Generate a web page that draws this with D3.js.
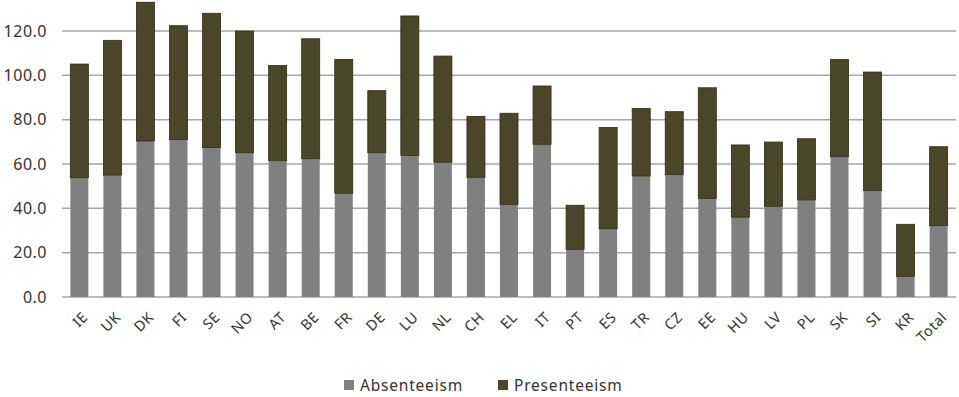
<!DOCTYPE html>
<html>
<head>
<meta charset="utf-8">
<script src="https://cdn.jsdelivr.net/npm/d3@7"></script>
<style>
  body { margin: 0; background: #fff; }
  text { font-family: "Noto Sans", sans-serif; fill: #333; }
</style>
</head>
<body>
<svg id="chart" width="959" height="397"></svg>
<script>
// values
const countries = ['IE','UK','DK','FI','SE','NO','AT','BE','FR','DE','LU','NL','CH','EL','IT','PT','ES','TR','CZ','EE','HU','LV','PL','SK','SI','KR','Total'];
const absenteeism = [53.8,55.0,70.4,71.0,67.4,65.1,61.5,62.4,46.8,65.1,63.8,60.8,54.0,41.7,68.9,21.5,30.8,54.6,55.2,44.5,36.0,40.9,43.8,63.3,48.0,9.3,32.2];
const totals = [105.1,115.8,133.0,122.4,128.0,120.0,104.4,116.5,107.2,93.1,126.8,108.7,81.5,82.9,95.2,41.4,76.5,85.0,83.6,94.4,68.6,69.9,71.4,107.1,101.5,32.8,67.8];
const presenteeism = totals.map((t, i) => +(t - absenteeism[i]).toFixed(1));
const yTicks = [0, 20, 40, 60, 80, 100, 120];
const seriesNames = ['Absenteeism', 'Presenteeism'];
const colors = ['#808080', '#4b4629'];

const svg = d3.select('#chart');
const left = 62, right = 956, bottom = 297;

const x = d3.scaleBand().domain(countries).range([left, right]).paddingInner(0.455).paddingOuter(0.2525);
const y = d3.scaleLinear().domain([0, 140]).range([bottom, bottom - 7 * 44.33]);

// gridlines
svg.append('g')
  .selectAll('line')
  .data(yTicks)
  .join('line')
  .attr('x1', left)
  .attr('x2', right)
  .attr('y1', d => y(d))
  .attr('y2', d => y(d))
  .attr('stroke', '#a6a6a6')
  .attr('stroke-width', 1.5);

// y labels
svg.append('g')
  .selectAll('text')
  .data(yTicks)
  .join('text')
  .attr('x', 47)
  .attr('y', d => y(d))
  .attr('dy', '0.36em')
  .attr('text-anchor', 'end')
  .style('font-size', '16px')
  .style('letter-spacing', '0.5px')
  .text(d => d.toFixed(1));

const rows = countries.map((c, i) => ({ country: c, Absenteeism: absenteeism[i], Presenteeism: presenteeism[i] }));
const stacked = d3.stack().keys(seriesNames)(rows);

svg.append('g')
  .selectAll('g')
  .data(stacked)
  .join('g')
  .attr('fill', (d, i) => colors[i])
  .attr('stroke', (d, i) => i === 1 ? '#2e2a14' : 'none')
  .attr('stroke-width', 0.8)
  .selectAll('rect')
  .data(d => d)
  .join('rect')
  .attr('x', d => x(d.data.country))
  .attr('width', x.bandwidth())
  .attr('y', d => y(d[1]))
  .attr('height', d => y(d[0]) - y(d[1]));

// x labels, rotated
svg.append('g')
  .selectAll('text')
  .data(countries)
  .join('text')
  .attr('transform', d => `translate(${x(d) + x.bandwidth() / 2 + 2},${bottom + 14}) rotate(-45)`)
  .attr('text-anchor', 'end')
  .attr('dy', '0.7em')
  .style('font-size', '14.5px')
  .style('letter-spacing', '0.5px')
  .text(d => d);

// legend
const legend = svg.append('g');
const legendX = [344, 498];
seriesNames.forEach((name, i) => {
  legend.append('rect')
    .attr('x', legendX[i])
    .attr('y', 380)
    .attr('width', 10)
    .attr('height', 10)
    .attr('fill', colors[i]);
  legend.append('text')
    .attr('x', legendX[i] + 16)
    .attr('y', 385)
    .attr('dy', '0.36em')
    .style('font-size', '15.5px')
    .style('letter-spacing', '0.8px')
    .text(name);
});
</script>
</body>
</html>
